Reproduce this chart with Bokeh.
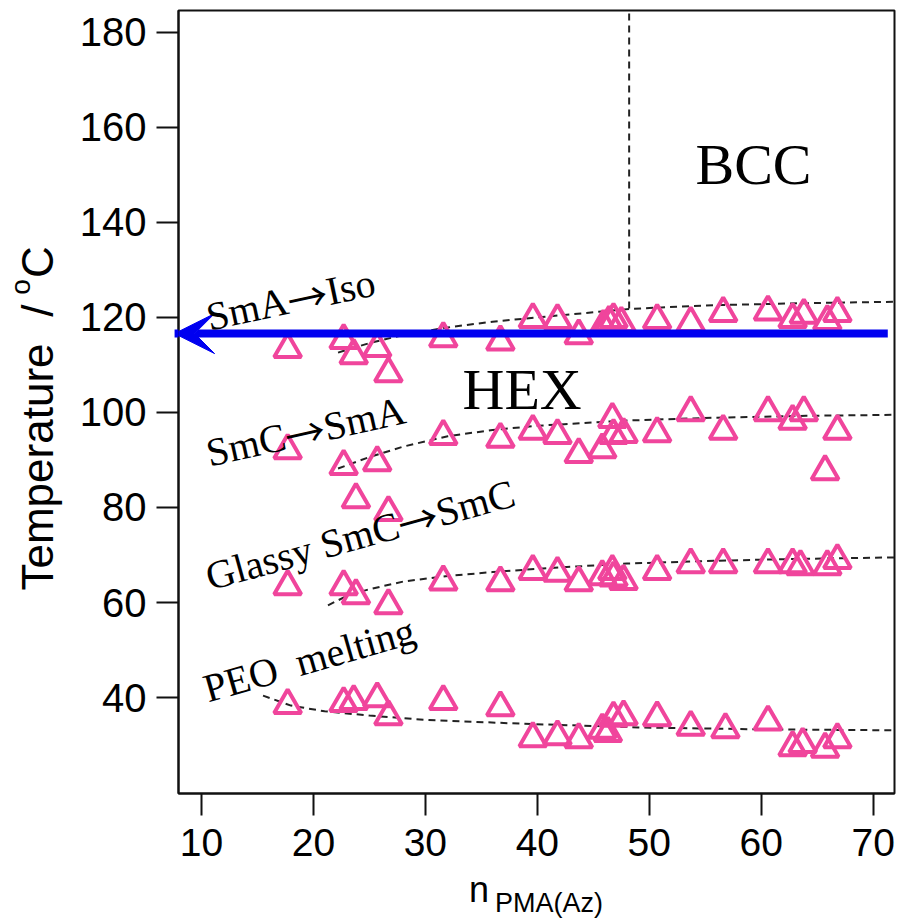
import math
from bokeh.plotting import figure
from bokeh.models import (Label, Arrow, VeeHead, FixedTicker, Range1d, LinearAxis,
                          CustomJSTickFormatter)
from bokeh.embed import file_html
from bokeh.resources import INLINE

# ---- data ----
# SmA -> Iso transition
iso_n = [17.7, 22.7, 23.6, 25.7, 26.7, 31.6, 36.7, 39.6, 41.8, 43.7, 45.9, 46.4, 46.8, 47.5,
         50.7, 53.7, 56.6, 60.6, 62.8, 63.8, 65.9, 66.8]
iso_T = [113.3, 115.2, 112.0, 113.5, 108.2, 115.6, 114.9, 119.6, 119.4, 116.2, 118.2, 119.0, 119.6, 118.8,
         119.4, 118.8, 120.9, 121.2, 119.6, 120.5, 119.2, 120.9]
# SmC -> SmA transition
smc_n = [17.7, 22.7, 23.8, 25.7, 26.7, 31.6, 36.7, 39.6, 41.8, 43.7, 45.8, 46.7, 46.8, 47.7,
         50.7, 53.7, 56.6, 60.6, 62.8, 63.8, 65.7, 66.8]
smc_T = [92.0, 88.7, 81.7, 89.5, 79.0, 95.0, 94.4, 96.1, 95.2, 91.2, 92.2, 98.6, 95.2, 95.4,
         95.6, 100.0, 96.1, 100.0, 98.2, 100.0, 87.6, 96.1]
# Glassy SmC -> SmC transition
gla_n = [17.7, 22.7, 23.8, 26.7, 31.6, 36.7, 39.6, 41.8, 43.7, 45.8, 46.7, 46.8, 47.7,
         50.7, 53.7, 56.6, 60.6, 62.8, 63.5, 65.9, 66.8]
gla_T = [63.4, 63.4, 61.5, 59.4, 64.4, 64.2, 66.6, 66.2, 64.2, 65.5, 66.6, 65.2, 64.5,
         66.6, 68.0, 68.0, 68.0, 68.0, 67.6, 67.6, 68.9]
# PEO melting
peo_n = [17.7, 22.7, 23.6, 25.7, 26.7, 31.6, 36.7, 39.6, 41.8, 43.7, 45.8, 46.3, 46.8, 47.7,
         50.7, 53.7, 56.8, 60.6, 62.8, 63.7, 65.7, 66.8]
peo_T = [38.4, 38.8, 39.2, 39.8, 36.0, 39.2, 37.9, 31.4, 31.8, 31.2, 33.2, 32.5, 35.7, 36.0,
         35.8, 33.8, 33.3, 34.9, 29.5, 30.2, 29.2, 31.2]

# phase boundaries (dashed guide lines)
b_iso_n = [22.2, 25, 28, 32, 36, 40, 48.3, 56, 64, 72]
b_iso_T = [112.6, 114.6, 116.3, 117.9, 119.1, 120.0, 121.8, 122.6, 123.0, 123.3]
b_smc_n = [22.2, 25, 28, 32, 36, 40, 48, 56, 64, 72]
b_smc_T = [88.2, 90.6, 92.8, 95.0, 96.3, 97.2, 98.3, 98.9, 99.3, 99.5]
b_gla_n = [21.3, 23, 25, 28, 32, 36, 40, 48, 56, 64, 72]
b_gla_T = [59.4, 61.4, 62.8, 64.4, 65.6, 66.4, 67.1, 68.2, 68.8, 69.2, 69.5]
b_peo_n = [15.5, 18, 21, 25, 30, 38.5, 49, 60, 72]
b_peo_T = [40.4, 38.3, 37.1, 36.2, 35.3, 34.5, 33.7, 33.3, 33.1]
b_bcc_n = [48.2, 48.2]
b_bcc_T = [121.9, 184.6]

x_ticks = [10, 20, 30, 40, 50, 60, 70]
y_ticks = [40, 60, 80, 100, 120, 140, 160, 180]

arrow_T = 116.6
arrow_n_from, arrow_n_to = 71.3, 7.6

# ---- layout / style ----
PINK = "#F0459C"
BLUE = "#0000F0"
SERIF = "Liberation Serif"
SANS = "Liberation Sans"
CJK = "Noto Sans CJK JP"

X0, X1, Y0, Y1 = 7.95, 71.9, 19.8, 184.6
W, H = 897, 924
FL, FT, FR, FB = 178, 10, 894, 793          # frame edges in page pixels
XPPU = (FR - FL) / (X1 - X0)
YPPU = (FB - FT) / (Y1 - Y0)


def dx(px):
    return X0 + (px - FL) / XPPU


def dy(py):
    return Y0 + (FB - py) / YPPU


p = figure(width=W, height=H, output_backend="svg", toolbar_location=None,
           x_range=Range1d(X0, X1), y_range=Range1d(Y0, Y1),
           min_border_left=FL, min_border_right=W - FR, min_border_top=FT,
           min_border_bottom=H - FB)
p.xgrid.visible = False
p.ygrid.visible = False
p.outline_line_color = "#111111"
p.outline_line_width = 2
p.background_fill_color = "white"

for ax, ticks, fs, so in ((p.xaxis[0], x_ticks, "39px", 13), (p.yaxis[0], y_ticks, "40px", 10)):
    ax.ticker = FixedTicker(ticks=ticks)
    ax.axis_line_width = 2
    ax.axis_line_color = "#111111"
    ax.major_tick_line_width = 2
    ax.major_tick_line_color = "#111111"
    ax.major_tick_out = 22
    ax.major_tick_in = 0
    ax.minor_tick_line_color = None
    ax.minor_tick_out = 0
    ax.major_label_text_font = SANS
    ax.major_label_text_font_size = fs
    ax.major_label_text_color = "black"
    ax.major_label_standoff = so


def text_axis(side, ticks, code, fs, standoff, orientation="horizontal"):
    a = LinearAxis(ticker=FixedTicker(ticks=ticks),
                   formatter=CustomJSTickFormatter(code=code),
                   axis_line_color=None, major_tick_line_color=None,
                   minor_tick_line_color=None, major_tick_out=0, major_tick_in=0,
                   minor_tick_out=0, minor_tick_in=0,
                   major_label_text_font=SANS, major_label_text_font_size=fs,
                   major_label_text_color="black", major_label_standoff=standoff,
                   major_label_orientation=orientation)
    p.add_layout(a, side)
    return a


# x title: n with subscript PMA(Az)
text_axis("below", [dx(478.5)], "return 'n'", "36px", 10)
text_axis("below", [dx(548.5)], "return 'PMA(Az)'", "27px", -25)
# y title: Temperature / °C  (superscript o)
t_split1, t_split2 = dy(400), dy(284)
text_axis("left", [dy(466.5), dy(310.0), dy(261.5)],
          f"if (tick < {t_split1:.3f}) return 'Temperature'; "
          f"if (tick < {t_split2:.3f}) return '/'; return 'C';",
          "44px", 15, "vertical")
text_axis("left", [dy(286.5)], "return 'o'", "28px", -26, "vertical")

# dashed boundaries
for bx, by in ((b_iso_n, b_iso_T), (b_smc_n, b_smc_T), (b_gla_n, b_gla_T),
               (b_peo_n, b_peo_T), (b_bcc_n, b_bcc_T)):
    p.line(bx, by, line_dash="7 5", line_width=2, line_color="#222222")

# data points
for xs, ys in ((iso_n, iso_T), (smc_n, smc_T), (gla_n, gla_T), (peo_n, peo_T)):
    p.scatter(xs, ys, marker="triangle", size=27, line_color=PINK, line_width=4,
              fill_color=None)

# blue arrow
p.add_layout(Arrow(end=VeeHead(size=40, fill_color=BLUE, line_color=BLUE, line_width=1),
                   x_start=arrow_n_from, y_start=arrow_T, x_end=arrow_n_to, y_end=arrow_T,
                   line_color=BLUE, line_width=8))

# phase labels (baseline positions in page pixels)
MID = 0.36
for txt, bx, by in (("HEX", 462, 410), ("BCC", 695, 185)):
    p.add_layout(Label(x=dx(bx), y=dy(by - MID * 58), text=txt, text_font=SERIF,
                       text_font_size="58px", text_baseline="middle", text_align="left",
                       text_color="black"))

# Times / Liberation Serif advance widths (per 1000 em)
TW = {"S": 556, "m": 778, "A": 722, "I": 333, "s": 389, "o": 500, "C": 667, "G": 722,
      "l": 278, "a": 444, "y": 500, " ": 250, "\u00a0": 250, "P": 556, "E": 611, "O": 722,
      "e": 444, "t": 278, "i": 278, "n": 500, "g": 500}
ARROW = "\u2192"
FS = 40
MID_ROT = 0.18


def piece_width(s, font):
    if font == CJK:
        return FS * len(s)
    return sum(TW[c] for c in s) / 1000 * FS


rot_labels = [
    ([("SmA", SERIF), (ARROW, CJK), ("Iso", SERIF)], 208, 324, 12),
    ([("SmC", SERIF), (ARROW, CJK), ("SmA", SERIF)], 208, 460, 12.5),
    ([("Glassy SmC", SERIF), (ARROW, CJK), ("SmC", SERIF)], 208, 584, 15.5),
    ([("PEO\u00a0 melting", SERIF)], 206, 696, 16),
]
for pieces, px0, py0, ang in rot_labels:
    th = math.radians(ang)
    ux, uy = math.cos(th), -math.sin(th)        # along baseline (page coords)
    nx, ny = -math.sin(th), -math.cos(th)       # "up" from baseline
    d = 0.0
    for txt, font in pieces:
        ax_ = px0 + d * ux + MID_ROT * FS * nx
        ay_ = py0 + d * uy + MID_ROT * FS * ny
        p.add_layout(Label(x=dx(ax_), y=dy(ay_), text=txt, angle=ang, angle_units="deg",
                           text_font=font, text_font_size=f"{FS}px", text_baseline="middle",
                           text_align="left", text_color="black"))
        d += piece_width(txt, font)

open("out.html", "w").write(file_html(p, INLINE))
